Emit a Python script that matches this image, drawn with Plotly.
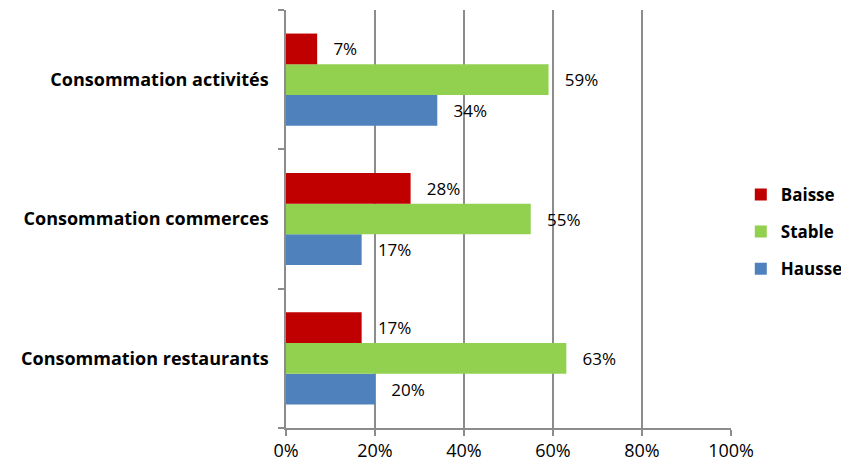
import plotly.graph_objects as go

categories = ["Consommation restaurants", "Consommation commerces", "Consommation activités"]
hausse = [20, 17, 34]
stable = [63, 55, 59]
baisse = [17, 28, 7]
series_names = ["Hausse", "Stable", "Baisse"]
legend_ranks = [3, 2, 1]
colors = ["#4F81BD", "#92D050", "#C00000"]
tick_vals = [0, 20, 40, 60, 80, 100]
tick_text = ["0%", "20%", "40%", "60%", "80%", "100%"]

fig = go.Figure()
for name, vals, col, rank in zip(series_names, [hausse, stable, baisse], colors, legend_ranks):
    fig.add_trace(go.Bar(
        y=categories, x=vals, name=name, orientation="h",
        legendgroup=name, legendrank=rank,
        marker=dict(color=col, line=dict(width=0)),
        text=["\u00a0\u00a0\u00a0" + f"{v}%" for v in vals], textposition="outside",
        textfont=dict(family="Open Sans", size=17, color="#000"),
        constraintext="none",
        cliponaxis=False,
    ))

# page body has an ~8px default margin: size the figure to fill the rest of the 849x465 window
fig.update_layout(
    width=841, height=457,
    margin=dict(l=278, r=118, t=2, b=37, autoexpand=False),
    paper_bgcolor="white", plot_bgcolor="white",
    barmode="group", bargap=0.338, bargroupgap=0,
    legend=dict(
        x=1.022, y=0.469, xanchor="left", yanchor="middle",
        traceorder="grouped",
        font=dict(family="Open Sans", size=17, color="#000", weight="bold"),
        itemwidth=30, tracegroupgap=12,
    ),
    xaxis=dict(
        range=[0, 100], tickvals=tick_vals, ticktext=tick_text,
        showgrid=True, gridcolor="#8C8C8C", gridwidth=1.5,
        showline=True, linecolor="#8C8C8C", linewidth=1.5,
        ticks="outside", ticklen=6, tickcolor="#8C8C8C", tickwidth=1.5,
        tickfont=dict(family="Open Sans", size=18, color="#000"),
        zeroline=False,
    ),
    yaxis=dict(
        showline=True, linecolor="#8C8C8C", linewidth=1.5,
        ticks="outside", tickson="boundaries", ticklen=6, tickcolor="#8C8C8C", tickwidth=1.5,
        tickfont=dict(family="Open Sans", size=18, color="#000", weight="bold"),
        ticklabelstandoff=12,
    ),
    font=dict(family="Open Sans"),
)

fig.write_html("out.html")
